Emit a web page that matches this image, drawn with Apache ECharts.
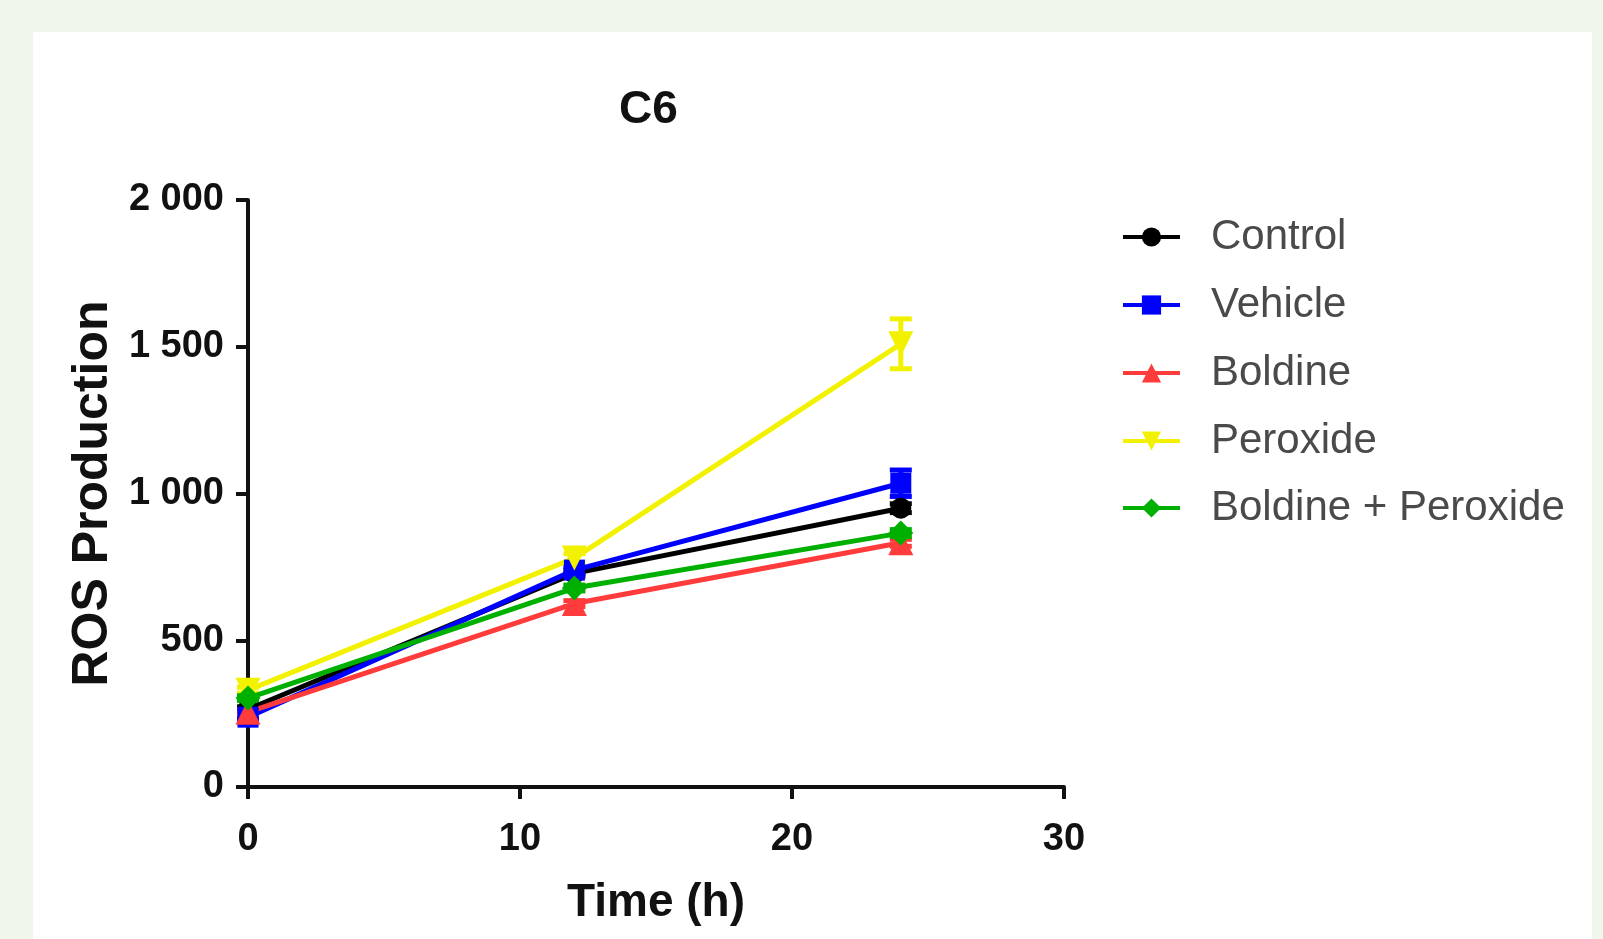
<!DOCTYPE html>
<html>
<head>
<meta charset="utf-8">
<script src="https://cdn.jsdelivr.net/npm/echarts@6/dist/echarts.min.js"></script>
<style>
  html, body { margin: 0; padding: 0; width: 1603px; height: 939px; background: #f0f6ec; overflow: hidden; }
  #chart { position: absolute; left: 33px; top: 32px; width: 1559px; height: 907px; background: #ffffff; }
</style>
</head>
<body>
<div id="chart"></div>
<script>
// ---- data ----
const times = [0, 12, 24];
const seriesNames = ['Control', 'Vehicle', 'Boldine', 'Peroxide', 'Boldine + Peroxide'];
const control = [265, 728, 950];
const vehicle = [238, 739, 1035];
const boldine = [255, 625, 832];
const peroxide = [330, 780, 1510];
const boldinePeroxide = [303, 678, 865];
const controlErr = [8, 10, 15];
const vehicleErr = [8, 12, 45];
const boldineErr = [8, 10, 12];
const peroxideErr = [10, 15, 85];
const boldinePeroxideErr = [8, 10, 12];
const xTicks = [0, 10, 20, 30];
const yTickLabels = { 0: '0', 500: '500', 1000: '1 000', 1500: '1 500', 2000: '2 000' };

const colors = ['#000000', '#0000ff', '#ff3b3b', '#f2f200', '#00b000'];
const symbols = ['circle', 'rect', 'triangle', 'triangle', 'diamond'];
const rotations = [0, 0, 0, 180, 0];
const values = [control, vehicle, boldine, peroxide, boldinePeroxide];
const errs = [controlErr, vehicleErr, boldineErr, peroxideErr, boldinePeroxideErr];

const FONT = "'Liberation Sans', Arial, sans-serif";
const chart = echarts.init(document.getElementById('chart'));

const series = [];
seriesNames.forEach((name, i) => {
  // error bars
  series.push({
    type: 'custom',
    name: name + ' err',
    z: 2,
    data: times.map((t, k) => [t, values[i][k] - errs[i][k], values[i][k] + errs[i][k]]),
    renderItem: function (params, api) {
      const lo = api.coord([api.value(0), api.value(1)]);
      const hi = api.coord([api.value(0), api.value(2)]);
      const w = 11;
      const style = { stroke: colors[i], lineWidth: 5 };
      return {
        type: 'group',
        children: [
          { type: 'line', shape: { x1: lo[0], y1: lo[1], x2: hi[0], y2: hi[1] }, style },
          { type: 'line', shape: { x1: lo[0] - w, y1: lo[1], x2: lo[0] + w, y2: lo[1] }, style },
          { type: 'line', shape: { x1: hi[0] - w, y1: hi[1], x2: hi[0] + w, y2: hi[1] }, style }
        ]
      };
    },
    silent: true
  });
  series.push({
    type: 'line',
    name: name,
    data: times.map((t, k) => [t, values[i][k]]),
    symbol: symbols[i],
    symbolRotate: rotations[i],
    symbolSize: symbols[i] === 'circle' ? 21 : (symbols[i] === 'rect' ? 21 : 25),
    lineStyle: { width: 5, color: colors[i] },
    itemStyle: { color: colors[i] },
    z: 3,
    animation: false
  });
});

const rowCenters = [205, 273, 341, 409, 476];
const legends = seriesNames.map((name, i) => ({
  data: [name],
  left: 1083,
  top: rowCenters[i] - 23 - 5,
  orient: 'vertical',
  itemWidth: 57,
  itemHeight: 24,
  lineStyle: { width: 4 },
  textStyle: { fontFamily: FONT, fontSize: 42, color: '#4a4a4a', lineHeight: 46, padding: [0, 0, 0, 26] },
  selectedMode: false
}));

chart.setOption({
  backgroundColor: '#ffffff',
  animation: false,
  title: {
    text: 'C6',
    left: 581,
    top: 50,
    textStyle: { fontFamily: FONT, fontSize: 46, fontWeight: 'bold', color: '#111' }
  },
  legend: legends,
  grid: { left: 215, top: 168, width: 816, height: 587, containLabel: false },
  xAxis: {
    type: 'value',
    min: 0, max: 30, interval: 10,
    name: 'Time (h)',
    nameLocation: 'middle',
    nameGap: 93,
    nameTextStyle: { fontFamily: FONT, fontSize: 46, fontWeight: 'bold', color: '#111' },
    axisLine: { show: true, onZero: false, lineStyle: { color: '#111', width: 4 } },
    axisTick: { show: true, length: 12, lineStyle: { color: '#111', width: 4 } },
    axisLabel: {
      fontFamily: FONT, fontSize: 38, fontWeight: 'bold', color: '#111', margin: 34,
      formatter: v => xTicks.includes(v) ? String(v) : ''
    },
    splitLine: { show: false }
  },
  yAxis: {
    type: 'value',
    min: 0, max: 2000, interval: 500,
    name: 'ROS Production',
    nameLocation: 'middle',
    nameGap: 130,
    nameTextStyle: { fontFamily: FONT, fontSize: 50, fontWeight: 'bold', color: '#111' },
    axisLine: { show: true, lineStyle: { color: '#111', width: 4 } },
    axisTick: { show: true, length: 12, lineStyle: { color: '#111', width: 4 } },
    axisLabel: {
      fontFamily: FONT, fontSize: 38, fontWeight: 'bold', color: '#111', margin: 24,
      formatter: v => yTickLabels[v] !== undefined ? yTickLabels[v] : String(v)
    },
    splitLine: { show: false }
  },
  series: series
});
</script>
</body>
</html>
